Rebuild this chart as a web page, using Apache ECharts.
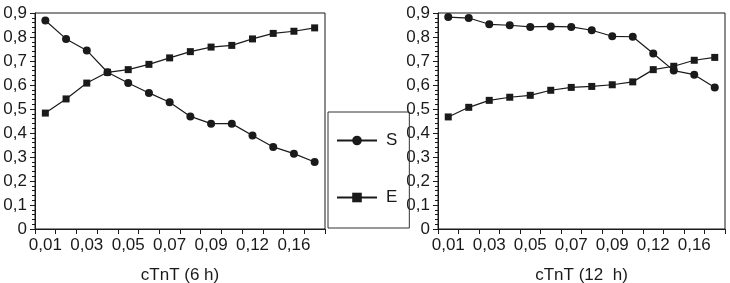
<!DOCTYPE html>
<html>
<head>
<meta charset="utf-8">
<script src="https://cdn.jsdelivr.net/npm/echarts@6/dist/echarts.min.js"></script>
<style>
  html, body { margin: 0; padding: 0; background: #fff; }
  #chart { width: 730px; height: 283px; }
</style>
</head>
<body>
<div id="chart"></div>
<script>
var categories = ['0,01', '0,02', '0,03', '0,04', '0,05', '0,06', '0,07',
                  '0,08', '0,09', '0,10', '0,12', '0,14', '0,16', '0,18'];
var tickLabels = ['0,01', '', '0,03', '', '0,05', '', '0,07',
                  '', '0,09', '', '0,12', '', '0,16', ''];

// 6 h
var s6 = [0.869, 0.792, 0.744, 0.653, 0.608, 0.567, 0.528, 0.469, 0.439, 0.439, 0.390, 0.342, 0.314, 0.279];
var e6 = [0.483, 0.542, 0.608, 0.653, 0.664, 0.686, 0.713, 0.739, 0.758, 0.765, 0.792, 0.815, 0.824, 0.838];
// 12 h
var s12 = [0.883, 0.879, 0.853, 0.849, 0.842, 0.844, 0.842, 0.828, 0.803, 0.801, 0.731, 0.660, 0.643, 0.590];
var e12 = [0.467, 0.507, 0.536, 0.549, 0.557, 0.578, 0.590, 0.594, 0.601, 0.613, 0.664, 0.678, 0.703, 0.715];

var FONT = 'Liberation Sans';
var INK = '#1a1a1a';

function xAxis(idx, title) {
    return {
        type: 'category',
        gridIndex: idx,
        data: categories,
        boundaryGap: true,
        name: title,
        nameLocation: 'middle',
        nameGap: 38,
        nameTextStyle: { fontFamily: FONT, fontSize: 17, color: INK },
        axisLine: { lineStyle: { color: INK, width: 1 } },
        axisTick: { show: true, interval: 0, length: 5, lineStyle: { color: INK } },
        axisLabel: {
            interval: 0,
            margin: 8,
            fontFamily: FONT,
            fontSize: 17,
            color: INK,
            formatter: function (v, i) {
                return tickLabels[i];
            }
        },
        splitLine: { show: false }
    };
}

function yAxis(idx) {
    return {
        type: 'value',
        gridIndex: idx,
        min: 0,
        max: 0.9,
        interval: 0.1,
        axisLine: { show: true, lineStyle: { color: INK, width: 1 } },
        axisTick: { show: true, length: 5, lineStyle: { color: INK } },
        minorTick: { show: true, splitNumber: 5, length: 3, lineStyle: { color: INK } },
        axisLabel: {
            margin: 8,
            fontFamily: FONT,
            fontSize: 17,
            color: INK,
            formatter: function (v) {
                if (v === 0) return '0';
                return v.toFixed(1).replace('.', ',');
            }
        },
        splitLine: { show: false }
    };
}

function lineSeries(name, data, idx, symbol, size) {
    return {
        name: name,
        type: 'line',
        xAxisIndex: idx,
        yAxisIndex: idx,
        data: data,
        symbol: symbol,
        symbolSize: size,
        showSymbol: true,
        animation: false,
        itemStyle: { color: INK },
        lineStyle: { color: INK, width: 1.2 }
    };
}

var chart = echarts.init(document.getElementById('chart'));
var option = {
    backgroundColor: '#fff',
    animation: false,
    grid: [
        { left: 35, top: 13, width: 290, height: 216, outerBoundsMode: 'none', containLabel: false,
          show: true, borderColor: INK, borderWidth: 1 },
        { left: 438, top: 13, width: 287, height: 216, outerBoundsMode: 'none', containLabel: false,
          show: true, borderColor: INK, borderWidth: 1 }
    ],
    xAxis: [xAxis(0, 'cTnT (6 h)'), xAxis(1, 'cTnT (12  h)')],
    yAxis: [yAxis(0), yAxis(1)],
    legend: {
        orient: 'vertical',
        left: 328,
        top: 112,
        data: ['S', 'E'],
        itemWidth: 40,
        itemHeight: 12,
        itemGap: 40,
        padding: [20, 12, 22, 8],
        borderColor: '#333',
        borderWidth: 1,
        textStyle: { fontFamily: FONT, fontSize: 17, color: INK, padding: [0, 0, 0, 4] }
    },
    series: [
        lineSeries('S', s6, 0, 'circle', 8),
        lineSeries('E', e6, 0, 'rect', 7),
        lineSeries('S', s12, 1, 'circle', 8),
        lineSeries('E', e12, 1, 'rect', 7)
    ]
};
chart.setOption(option);
</script>
</body>
</html>
